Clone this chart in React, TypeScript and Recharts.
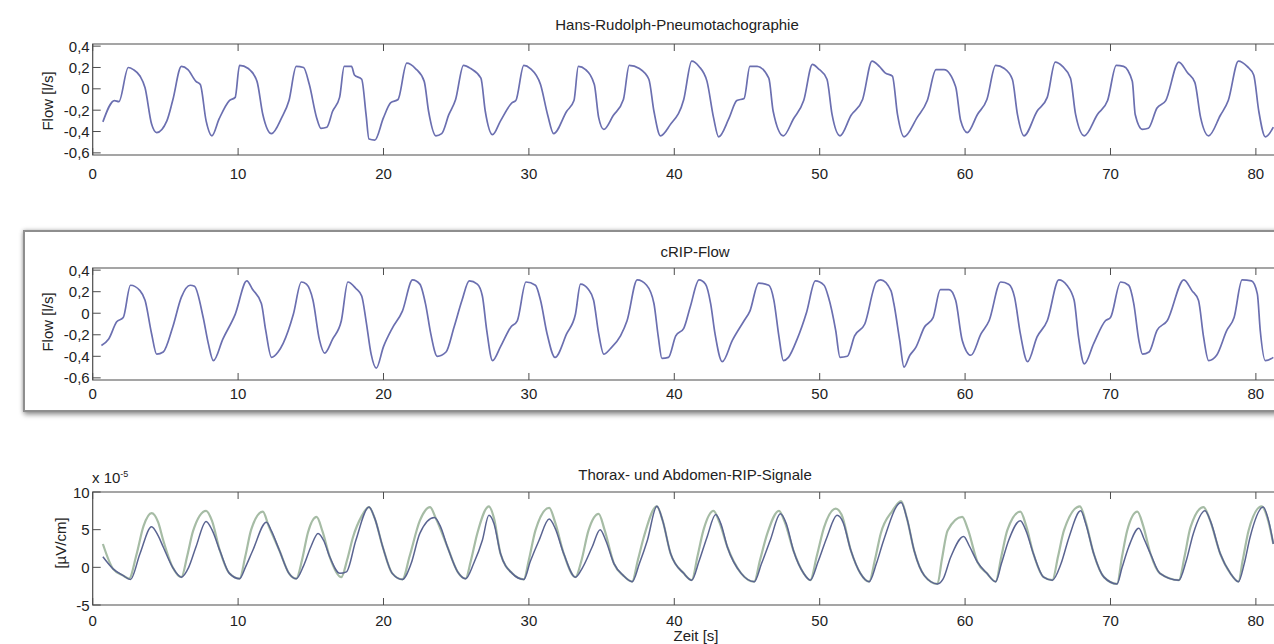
import React from 'react';
import { LineChart, Line, XAxis, YAxis, ReferenceArea } from 'recharts';

const X_TICKS = [0, 10, 20, 30, 40, 50, 60, 70, 80];
const X_DOMAIN: [number, number] = [0, 81.5];
const FLOW_TICKS = [-0.6, -0.4, -0.2, 0, 0.2, 0.4];
const FLOW_DOMAIN: [number, number] = [-0.62, 0.42];
const RIP_TICKS = [-5, 0, 5, 10];
const RIP_DOMAIN: [number, number] = [-5, 10];

const TITLE_HR = 'Hans-Rudolph-Pneumotachographie';
const TITLE_CRIP = 'cRIP-Flow';
const TITLE_RIP = 'Thorax- und Abdomen-RIP-Signale';
const LABEL_FLOW = 'Flow [l/s]';
const LABEL_RIP = '[µV/cm]';
const LABEL_TIME = 'Zeit [s]';

// Hans-Rudolph flow (time s, flow l/s)
const HR_T = [0.7, 1.5, 1.8, 2.45, 2.8, 3.25, 3.6, 4.05, 4.4, 5.1, 5.5, 6.1, 6.55, 7.1, 7.4, 7.8, 8.2, 8.7, 9.4, 9.8, 10.1, 10.7, 11.3, 11.7, 12.3, 13.0, 13.5, 14.0, 14.5, 14.9, 15.4, 15.7, 16.1, 16.5, 16.98, 17.3, 17.8, 18.0, 18.5, 18.8, 19.0, 19.4, 20.0, 20.5, 21.0, 21.6, 22.2, 22.8, 23.1, 23.6, 24.0, 24.5, 24.96, 25.5, 26.0, 26.7, 27.0, 27.5, 28.05, 28.85, 29.1, 29.65, 30.1, 30.8, 31.3, 31.7, 32.6, 33.1, 33.4, 33.9, 34.5, 34.8, 35.15, 35.8, 36.5, 36.9, 37.6, 38.25, 38.6, 39.05, 39.7, 40.65, 41.2, 41.7, 42.25, 42.7, 43.05, 43.75, 44.3, 44.8, 45.2, 45.7, 46.5, 46.8, 47.5, 48.2, 48.9, 49.5, 49.9, 50.5, 50.85, 51.4, 52.15, 52.95, 53.6, 54.1, 54.5, 55.0, 55.35, 55.8, 56.7, 57.4, 58.0, 58.55, 59.35, 59.7, 60.15, 60.85, 61.5, 62.1, 62.7, 63.25, 63.6, 64.05, 64.95, 65.65, 66.2, 66.7, 67.25, 67.6, 68.2, 69.1, 69.8, 70.4, 70.9, 71.5, 71.7, 72.2, 72.6, 73.2, 73.8, 74.7, 75.3, 75.8, 76.2, 76.75, 77.55, 78.1, 78.8, 79.4, 79.85, 80.2, 80.65, 81.2];
const HR_V = [-0.31, -0.11, -0.12, 0.2, 0.18, 0.12, 0.01, -0.33, -0.41, -0.3, -0.11, 0.21, 0.18, 0.07, 0.04, -0.3, -0.44, -0.28, -0.11, -0.08, 0.22, 0.19, 0.07, -0.24, -0.42, -0.27, -0.11, 0.21, 0.2, 0.04, -0.27, -0.37, -0.36, -0.21, -0.08, 0.21, 0.21, 0.13, 0.09, -0.24, -0.47, -0.48, -0.27, -0.13, -0.1, 0.24, 0.19, 0.07, -0.21, -0.44, -0.42, -0.24, -0.1, 0.22, 0.19, 0.1, -0.21, -0.43, -0.3, -0.13, -0.11, 0.22, 0.19, 0.04, -0.25, -0.42, -0.21, -0.11, 0.21, 0.18, 0.04, -0.27, -0.38, -0.25, -0.1, 0.22, 0.19, 0.09, -0.21, -0.44, -0.34, -0.1, 0.26, 0.21, 0.07, -0.27, -0.45, -0.28, -0.11, -0.09, 0.21, 0.21, 0.1, -0.21, -0.44, -0.28, -0.11, 0.23, 0.19, 0.09, -0.24, -0.44, -0.25, -0.1, 0.26, 0.21, 0.15, 0.12, -0.24, -0.45, -0.27, -0.11, 0.18, 0.18, 0.02, -0.3, -0.41, -0.24, -0.1, 0.22, 0.19, 0.09, -0.24, -0.44, -0.21, -0.08, 0.25, 0.21, 0.1, -0.24, -0.44, -0.24, -0.11, 0.22, 0.21, 0.07, -0.24, -0.38, -0.37, -0.18, -0.11, 0.25, 0.15, 0.06, -0.27, -0.44, -0.25, -0.11, 0.26, 0.21, 0.13, -0.21, -0.45, -0.36];

// cRIP flow (time s, flow l/s)
const CRIP_T = [0.6, 1.1, 1.65, 2.1, 2.6, 3.25, 3.6, 4.05, 4.4, 4.85, 5.5, 6.1, 6.7, 7.0, 7.6, 7.95, 8.3, 8.95, 9.8, 10.6, 11.0, 11.6, 11.9, 12.3, 12.75, 13.1, 13.8, 14.35, 14.7, 15.15, 15.6, 15.95, 16.5, 17.1, 17.55, 18.1, 18.5, 18.8, 19.15, 19.5, 20.0, 20.6, 21.3, 22.0, 22.5, 22.9, 23.25, 23.7, 24.3, 24.85, 25.4, 25.9, 26.45, 26.8, 27.1, 27.5, 28.05, 28.75, 29.2, 29.8, 30.45, 30.8, 31.25, 31.8, 32.6, 33.2, 33.55, 34.1, 34.45, 34.8, 35.15, 35.6, 36.3, 36.75, 37.45, 38.1, 38.6, 38.9, 39.15, 39.6, 40.1, 40.65, 41.1, 41.7, 42.15, 42.5, 42.8, 43.3, 44.0, 44.8, 45.2, 45.8, 46.5, 46.85, 47.2, 47.5, 47.85, 48.45, 49.1, 49.7, 50.3, 50.6, 51.1, 51.4, 51.9, 52.4, 53.1, 53.9, 54.2, 54.9, 55.1, 55.5, 55.8, 56.2, 56.6, 57.2, 57.8, 58.3, 58.9, 59.35, 59.8, 60.4, 61.1, 61.65, 62.45, 63.0, 63.4, 63.8, 64.3, 64.95, 65.65, 66.45, 67.0, 67.5, 67.8, 68.2, 68.85, 69.65, 70.0, 70.7, 71.25, 71.6, 71.95, 72.2, 72.65, 73.2, 73.9, 75.05, 75.6, 76.05, 76.4, 76.75, 77.3, 78.0, 78.5, 79.05, 79.7, 80.1, 80.3, 80.65, 81.2];
const CRIP_V = [-0.3, -0.24, -0.08, -0.04, 0.26, 0.21, 0.12, -0.19, -0.38, -0.36, -0.13, 0.15, 0.26, 0.25, -0.04, -0.28, -0.44, -0.24, -0.01, 0.3, 0.22, 0.09, -0.16, -0.41, -0.36, -0.28, -0.01, 0.29, 0.27, 0.12, -0.25, -0.37, -0.24, -0.07, 0.29, 0.23, 0.16, -0.07, -0.38, -0.51, -0.31, -0.14, 0.02, 0.31, 0.27, 0.08, -0.19, -0.4, -0.36, -0.13, 0.12, 0.3, 0.27, 0.16, -0.16, -0.44, -0.31, -0.13, -0.07, 0.29, 0.26, 0.12, -0.19, -0.41, -0.19, -0.01, 0.27, 0.22, 0.12, -0.19, -0.38, -0.33, -0.21, -0.07, 0.31, 0.26, 0.09, -0.22, -0.42, -0.41, -0.21, -0.14, 0.06, 0.31, 0.27, 0.09, -0.19, -0.45, -0.25, -0.07, 0.02, 0.28, 0.26, 0.12, -0.22, -0.44, -0.41, -0.24, 0.01, 0.3, 0.26, 0.15, -0.16, -0.41, -0.4, -0.21, -0.1, 0.29, 0.31, 0.21, 0.09, -0.25, -0.5, -0.39, -0.32, -0.13, -0.04, 0.22, 0.22, 0.12, -0.25, -0.39, -0.19, -0.07, 0.29, 0.27, 0.15, -0.19, -0.45, -0.22, -0.07, 0.31, 0.26, 0.12, -0.22, -0.47, -0.28, -0.07, -0.04, 0.29, 0.26, 0.09, -0.25, -0.38, -0.36, -0.16, -0.07, 0.31, 0.21, 0.12, -0.22, -0.44, -0.39, -0.16, -0.04, 0.31, 0.3, 0.18, -0.16, -0.44, -0.41];

// Thorax / abdomen RIP signals (time s, x1e-5 µV/cm)
const GREEN_T = [0.7, 1.4, 2.1, 2.5, 3.0, 3.5, 4.05, 4.5, 4.85, 5.5, 6.1, 6.5, 6.9, 7.8, 8.2, 8.75, 9.4, 10.1, 10.5, 10.9, 11.7, 12.1, 12.85, 13.5, 14.0, 14.4, 14.8, 15.4, 15.8, 16.3, 17.1, 17.5, 17.9, 18.5, 19.0, 19.4, 19.95, 20.6, 21.3, 21.8, 22.5, 23.2, 23.6, 24.4, 25.1, 25.65, 26.0, 26.45, 27.25, 27.6, 28.05, 28.85, 29.65, 30.0, 30.45, 31.4, 31.8, 32.4, 33.2, 33.6, 34.1, 34.8, 35.2, 35.85, 36.5, 37.1, 37.5, 37.9, 38.8, 39.2, 39.75, 40.65, 41.2, 41.6, 42.0, 42.7, 43.1, 43.65, 44.6, 45.5, 45.9, 46.4, 47.2, 47.6, 48.2, 48.9, 49.35, 49.8, 50.3, 51.1, 51.5, 52.15, 52.8, 53.4, 53.8, 54.2, 55.0, 55.6, 56.0, 56.5, 57.2, 58.1, 58.4, 58.8, 59.8, 60.2, 60.85, 61.5, 62.1, 62.5, 62.9, 63.8, 64.2, 64.7, 65.4, 66.0, 66.4, 66.8, 67.9, 68.3, 68.85, 69.55, 70.45, 70.8, 71.15, 71.85, 72.25, 72.75, 73.4, 74.7, 75.1, 75.5, 76.4, 76.8, 77.55, 78.25, 78.8, 79.1, 79.5, 80.4, 80.8, 81.2];
const GREEN_V = [3.1, -0.2, -1.1, -1.5, 1.6, 5.5, 7.2, 6.0, 3.6, 0.0, -1.3, 1.5, 4.8, 7.5, 6.2, 2.2, -0.8, -1.5, 1.5, 5.0, 7.4, 5.5, 2.2, -0.8, -1.5, 1.0, 4.6, 6.7, 4.8, 1.4, -1.3, 1.0, 4.0, 6.8, 8.0, 6.5, 2.7, -0.8, -1.6, 1.5, 6.2, 8.0, 6.5, 2.7, -0.6, -1.5, 0.8, 4.5, 8.1, 6.5, 1.8, -0.8, -1.6, 1.0, 4.9, 7.9, 6.0, 1.8, -1.3, 0.8, 4.9, 7.1, 5.0, 0.5, -1.1, -1.9, 1.0, 4.0, 8.1, 6.2, 1.8, -0.8, -1.7, 1.5, 4.9, 7.5, 6.0, 2.7, -0.8, -1.9, 1.0, 4.5, 7.5, 6.0, 2.2, -0.8, -1.7, 1.5, 5.3, 7.8, 7.0, 2.2, -0.8, -1.9, 1.0, 4.5, 7.5, 8.8, 6.5, 2.2, -1.1, -2.2, 1.0, 4.9, 6.7, 5.0, 0.7, -0.8, -1.9, 1.5, 4.9, 7.4, 5.5, 1.8, -1.3, -1.7, 1.5, 4.9, 8.1, 6.0, 1.8, -1.3, -2.2, 1.5, 4.9, 7.4, 5.5, 1.8, -0.8, -1.7, 1.5, 5.3, 8.0, 6.5, 1.8, -0.8, -1.9, 1.0, 4.9, 8.1, 6.5, 3.1];
const BLUE_T = [0.7, 1.4, 2.1, 2.6, 3.25, 4.05, 4.5, 4.85, 5.5, 6.1, 6.6, 7.1, 7.8, 8.2, 8.75, 9.4, 10.1, 10.5, 11.0, 11.95, 12.3, 12.85, 13.5, 14.0, 14.5, 15.0, 15.5, 15.9, 16.3, 17.0, 17.45, 18.1, 19.0, 19.4, 19.95, 20.6, 21.3, 21.9, 22.5, 23.5, 23.9, 24.4, 25.1, 25.65, 26.2, 26.8, 27.25, 27.6, 28.05, 28.85, 29.65, 30.1, 30.7, 31.4, 31.8, 32.4, 33.2, 33.7, 34.35, 34.9, 35.3, 35.85, 36.5, 37.1, 37.6, 38.15, 38.8, 39.2, 39.75, 40.65, 41.2, 41.7, 42.25, 42.85, 43.2, 43.65, 44.6, 45.5, 46.0, 46.6, 47.3, 47.7, 48.2, 48.9, 49.35, 49.9, 50.5, 51.2, 51.6, 52.15, 52.8, 53.4, 53.9, 54.4, 55.6, 56.0, 56.5, 57.2, 58.1, 58.5, 59.0, 59.9, 60.3, 60.85, 61.5, 62.1, 62.5, 63.0, 63.8, 64.2, 64.7, 65.4, 66.0, 66.6, 67.15, 67.95, 68.3, 68.85, 69.55, 70.45, 70.8, 71.25, 71.95, 72.3, 72.75, 73.4, 74.7, 75.2, 75.7, 76.5, 76.9, 77.55, 78.25, 78.8, 79.2, 79.6, 80.5, 80.9, 81.2];
const BLUE_V = [1.4, -0.2, -1.1, -1.6, 1.8, 5.4, 4.2, 2.7, 0.0, -1.3, 0.0, 2.7, 6.1, 5.0, 2.2, -0.8, -1.5, 0.0, 2.2, 6.0, 4.8, 2.2, -0.8, -1.5, 0.2, 2.7, 4.5, 3.5, 1.4, -0.8, -0.6, 3.6, 8.0, 6.5, 2.7, -0.8, -1.6, 0.5, 4.5, 6.6, 5.5, 2.7, -0.6, -1.5, 0.5, 3.6, 6.9, 5.8, 1.8, -0.8, -1.6, 0.8, 3.6, 6.4, 5.2, 1.8, -1.3, 0.0, 2.7, 5.0, 3.5, 0.5, -1.1, -1.9, 0.5, 3.6, 8.1, 6.2, 1.8, -0.8, -1.7, 0.8, 4.0, 7.0, 5.8, 2.7, -0.8, -1.9, 0.5, 3.6, 7.1, 5.8, 2.2, -0.8, -1.7, 0.8, 4.0, 6.9, 6.0, 2.2, -0.8, -1.9, 0.5, 3.6, 8.6, 6.5, 2.2, -1.1, -2.2, -1.5, 1.3, 4.1, 2.8, 0.7, -0.8, -1.9, 0.5, 3.6, 6.2, 4.8, 1.8, -1.3, -1.7, 0.5, 4.0, 7.5, 5.8, 1.8, -1.3, -2.2, 0.0, 2.7, 5.2, 3.8, 1.8, -0.8, -1.7, 0.8, 4.5, 7.5, 6.0, 1.8, -0.8, -1.9, 0.5, 4.0, 8.0, 6.0, 3.1];

const zip = (t: number[], v: number[]) => t.map((x, i) => ({ t: x, v: v[i] }));
const HR_DATA = zip(HR_T, HR_V);
const CRIP_DATA = zip(CRIP_T, CRIP_V);
const GREEN_DATA = zip(GREEN_T, GREEN_V);
const BLUE_DATA = zip(BLUE_T, BLUE_V);

const FONT = '"Liberation Sans", Arial, Helvetica, sans-serif';
const AX = '#4d4d4d';
const TXT = '#222';
const PLOT_LEFT = 92.7;
const Y_AXIS_W = 60;
const CHART_W = 1300;
const PLOT_RIGHT = 1277.7;

const fmtFlow = (v: number) => String(v).replace('.', ',');
const fmtInt = (v: number) => String(v);

function makeXTick(top: number, bottom: number, labelY: number) {
  return (p: any) => (
    <g>
      <line x1={p.x} x2={p.x} y1={bottom} y2={bottom - 7} stroke={AX} strokeWidth={1} />
      <line x1={p.x} x2={p.x} y1={top} y2={top + 7} stroke={AX} strokeWidth={1} />
      <text x={p.x} y={labelY} textAnchor="middle" dominantBaseline="central" fontSize={15} fill={TXT} fontFamily={FONT}>
        {p.payload.value}
      </text>
    </g>
  );
}

function makeYTick(fmt: (v: number) => string) {
  return (p: any) => (
    <g>
      <line x1={PLOT_LEFT} x2={PLOT_LEFT + 8} y1={p.y} y2={p.y} stroke={AX} strokeWidth={1} />
      <text x={PLOT_LEFT - 3} y={p.y} textAnchor="end" dominantBaseline="central" fontSize={15} fill={TXT} fontFamily={FONT}>
        {fmt(p.payload.value)}
      </text>
    </g>
  );
}

const abs = (left: number, top: number, extra: React.CSSProperties = {}): React.CSSProperties => ({
  position: 'absolute',
  left,
  top,
  transform: 'translate(-50%, -50%)',
  whiteSpace: 'nowrap',
  fontSize: 15,
  lineHeight: 1,
  color: TXT,
  fontFamily: FONT,
  ...extra,
});

type PanelProps = {
  top: number;
  height: number;
  plotTop: number;
  plotBottom: number;
  labelY: number;
  yDomain: [number, number];
  yTicks: number[];
  fmt: (v: number) => string;
  children: React.ReactNode;
};

function Panel({ top, height, plotTop, plotBottom, labelY, yDomain, yTicks, fmt, children }: PanelProps) {
  return (
    <div style={{ position: 'absolute', left: 0, top }}>
      <LineChart
        width={CHART_W}
        height={height}
        margin={{ top: plotTop, right: CHART_W - PLOT_RIGHT, bottom: 0, left: PLOT_LEFT - Y_AXIS_W }}
      >
        <XAxis
          dataKey="t"
          type="number"
          domain={X_DOMAIN}
          ticks={X_TICKS}
          interval={0}
          allowDataOverflow
          axisLine={false}
          tickLine={false}
          height={height - plotBottom}
          tick={makeXTick(plotTop, plotBottom, labelY)}
        />
        <YAxis
          type="number"
          domain={yDomain}
          ticks={yTicks}
          interval={0}
          allowDataOverflow
          axisLine={false}
          tickLine={false}
          width={Y_AXIS_W}
          tick={makeYTick(fmt)}
        />
        <ReferenceArea
          x1={X_DOMAIN[0]}
          x2={X_DOMAIN[1]}
          y1={yDomain[0]}
          y2={yDomain[1]}
          fill="none"
          stroke={AX}
          strokeWidth={1.2}
          fillOpacity={0}
        />
        {children}
      </LineChart>
    </div>
  );
}

export default function App() {
  return (
    <div
      style={{
        position: 'absolute',
        left: 0,
        top: 0,
        width: 1274,
        height: 644,
        overflow: 'hidden',
        background: '#fff',
        fontFamily: FONT,
      }}
    >
      {/* shadowed frame around the cRIP panel */}
      <div
        style={{
          position: 'absolute',
          left: 23,
          top: 230,
          width: 1290,
          height: 178,
          border: '2px solid #8e8e8e',
          boxShadow: '1px 3px 5px rgba(0,0,0,0.35), 0 0 4px rgba(0,0,0,0.25)',
          background: '#fff',
        }}
      />

      <Panel top={0} height={190} plotTop={44} plotBottom={155} labelY={173} yDomain={FLOW_DOMAIN} yTicks={FLOW_TICKS} fmt={fmtFlow}>
        <Line data={HR_DATA} dataKey="v" type="monotone" stroke="#6b6fb0" strokeWidth={1.7} dot={false} isAnimationActive={false} />
      </Panel>

      <Panel top={220} height={195} plotTop={48} plotBottom={160} labelY={173} yDomain={FLOW_DOMAIN} yTicks={FLOW_TICKS} fmt={fmtFlow}>
        <Line data={CRIP_DATA} dataKey="v" type="monotone" stroke="#6b6fb0" strokeWidth={1.7} dot={false} isAnimationActive={false} />
      </Panel>

      <Panel top={440} height={200} plotTop={52} plotBottom={165} labelY={180} yDomain={RIP_DOMAIN} yTicks={RIP_TICKS} fmt={fmtInt}>
        <Line data={GREEN_DATA} dataKey="v" type="monotone" stroke="#a6bca5" strokeWidth={2.2} dot={false} isAnimationActive={false} />
        <Line data={BLUE_DATA} dataKey="v" type="monotone" stroke="#5a6491" strokeWidth={1.5} dot={false} isAnimationActive={false} />
      </Panel>

      {/* titles and axis labels */}
      <div style={abs(677, 24)}>{TITLE_HR}</div>
      <div style={abs(695, 251)}>{TITLE_CRIP}</div>
      <div style={abs(695, 474)}>{TITLE_RIP}</div>
      <div style={abs(47, 101, { transform: 'translate(-50%, -50%) rotate(-90deg)' })}>{LABEL_FLOW}</div>
      <div style={abs(47, 322, { transform: 'translate(-50%, -50%) rotate(-90deg)' })}>{LABEL_FLOW}</div>
      <div style={abs(60, 543, { transform: 'translate(-50%, -50%) rotate(-90deg)' })}>{LABEL_RIP}</div>
      <div style={abs(696, 635)}>{LABEL_TIME}</div>
      <div style={{ position: 'absolute', left: 92, top: 470, fontSize: 15, lineHeight: 1, color: TXT, fontFamily: FONT, whiteSpace: 'nowrap' }}>
        x 10<span style={{ fontSize: 9, position: 'relative', top: -6 }}>-5</span>
      </div>
    </div>
  );
}
